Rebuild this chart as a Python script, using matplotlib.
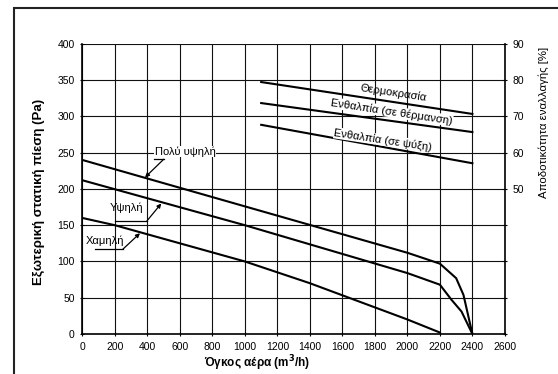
import numpy as np
import matplotlib
matplotlib.use("Agg")
import matplotlib.pyplot as plt
from matplotlib.patches import Rectangle

plt.rcParams['font.family'] = ['Liberation Sans', 'DejaVu Sans']

# fan curves (m3/h -> Pa)
x_very_high = [0, 2000, 2200, 2300, 2345, 2400]
y_very_high = [240, 112, 97, 77, 54, 0]
x_high = [0, 1000, 2000, 2200, 2272, 2333, 2400]
y_high = [212, 150, 84, 68, 47, 31, 0]
x_low = [0, 200, 1000, 1400, 2000, 2200]
y_low = [160, 150, 100, 70, 20, 2]

# efficiency curves (%)
x_eff = [1100, 2400]
eff_temp = [79.5, 70.7]
eff_heat = [73.7, 65.7]
eff_cool = [67.7, 57.1]

xticks = list(range(0, 2601, 200))
yticks = list(range(0, 401, 50))
rticks = list(range(10, 91, 10))
rlabels = [str(t) if t >= 50 else '' for t in rticks]

fig = plt.figure(figsize=(5.58, 3.74), dpi=100)
fig.patches.append(Rectangle((14/558, -0.1), 1.2, 1 - 8/374 + 0.1, transform=fig.transFigure,
                             fill=False, edgecolor='#222222', lw=1.5, clip_on=False))
ax = fig.add_axes([0.1478, 0.107, 0.757, 0.7754])
ax.set_xlim(0, 2600)
ax.set_ylim(0, 400)
ax.set_xticks(xticks)
ax.set_yticks(yticks)
ax.grid(True, color='#111111', lw=0.8)
ax.tick_params(labelsize=7.5, length=3, direction='inout', pad=4)
for s in ['top', 'right']:
    ax.spines[s].set_visible(False)
ax.spines['left'].set_linewidth(1.2)
ax.spines['bottom'].set_linewidth(1.2)

kw = dict(color='black', lw=1.5, zorder=3)
ax.plot(x_very_high, y_very_high, **kw)
ax.plot(x_high, y_high, **kw)
ax.plot(x_low, y_low, **kw)

ax.set_xlabel('Όγκος αέρα (m$^\\mathbf{3}$/h)', fontsize=8.5, fontweight='bold')
ax.xaxis.set_label_coords(0.413, -0.068)
ax.set_ylabel('Εξωτερική στατική πίεση (Pa)', fontsize=9.5, fontweight='bold')
ax.yaxis.set_label_coords(-0.088, 0.49)

ax2 = ax.twinx()
ax2.set_ylim(10, 90)
ax2.set_yticks(rticks)
ax2.set_yticklabels(rlabels)
ax2.tick_params(labelsize=7.5, length=3, direction='inout', pad=4)
for s in ['top', 'left', 'bottom']:
    ax2.spines[s].set_visible(False)
ax2.spines['right'].set_linewidth(1.2)
ax2.plot(x_eff, eff_temp, **kw)
ax2.plot(x_eff, eff_heat, **kw)
ax2.plot(x_eff, eff_cool, **kw)
ax2.set_ylabel('Αποδοτικότητα εναλλαγής [%]', fontsize=8.2)
ax2.yaxis.set_label_coords(1.08, 0.73)

box = dict(facecolor='white', edgecolor='none', pad=0.3)
rot = -8.6
ax2.text(1913, 76.6, 'Θερμοκρασία', fontsize=8, rotation=rot, ha='center', va='center', zorder=4)
ax2.text(1903, 71.3, 'Ενθαλπία (σε θέρμανση)', fontsize=8, rotation=rot, ha='center',
         va='center', bbox=box, zorder=4)
ax2.text(1851, 63.5, 'Ενθαλπία (σε ψύξη)', fontsize=8, rotation=rot, ha='center',
         va='center', bbox=box, zorder=4)

# callouts
arrow = dict(arrowstyle='-|>', color='black', lw=0.9, mutation_scale=6, shrinkA=0, shrinkB=0)
ax.text(631, 252, 'Πολύ υψηλή', fontsize=8, ha='center', va='center', bbox=box, zorder=4)
ax.plot([440, 500], [241, 241], color='black', lw=0.9, zorder=4)
ax.annotate('', xy=(385, 216), xytext=(500, 241), arrowprops=arrow, zorder=4)

ax.text(274, 174, 'Υψηλή', fontsize=8, ha='center', va='center', zorder=4)
ax.plot([200, 397], [156, 156], color='black', lw=0.9, zorder=4)
ax.annotate('', xy=(485, 180), xytext=(397, 156), arrowprops=arrow, zorder=4)

ax.text(138, 128, 'Χαμηλή', fontsize=8, ha='center', va='center', zorder=4)
ax.plot([77, 249], [117, 117], color='black', lw=0.9, zorder=4)
ax.annotate('', xy=(354, 139), xytext=(249, 117), arrowprops=arrow, zorder=4)

fig.savefig('out.png', dpi=100)
